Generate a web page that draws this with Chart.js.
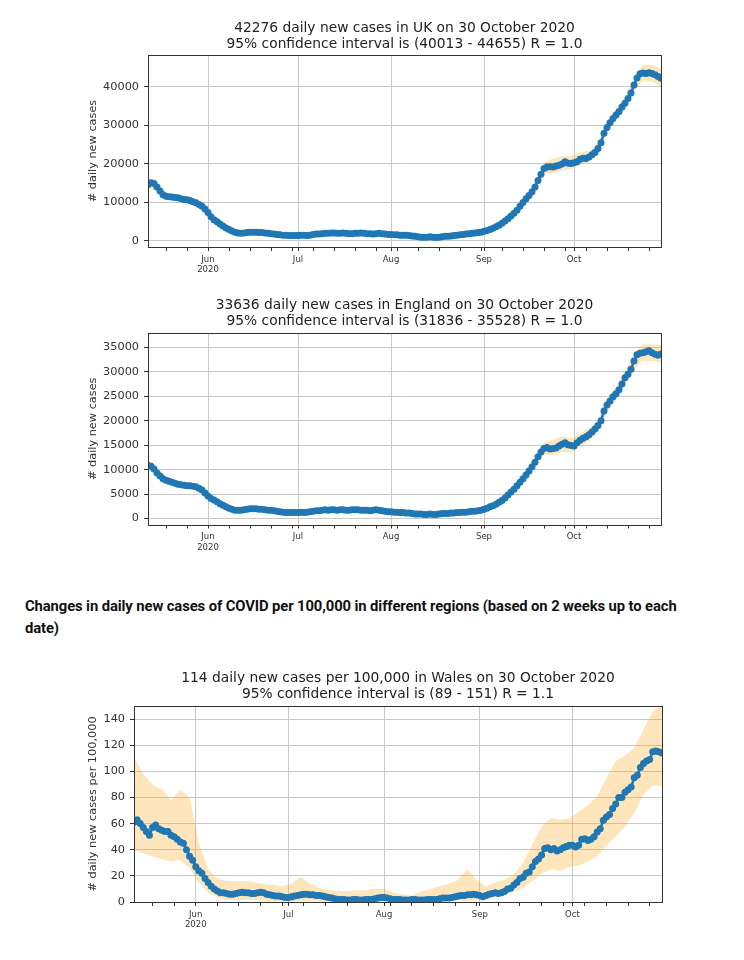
<!DOCTYPE html>
<html>
<head>
<meta charset="utf-8">
<script src="https://cdn.jsdelivr.net/npm/chart.js@4.4.0/dist/chart.umd.min.js"></script>
<style>
  body { margin: 0; background: #fff; width: 744px; height: 960px; position: relative; overflow: hidden; }
  canvas { position: absolute; left: 0; }
  #note { position: absolute; left: 25px; top: 595px; font: bold 14.8px Roboto, sans-serif; line-height: 22px; color: #111; letter-spacing: -0.1px; }
</style>
</head>
<body>
<canvas id="ukChart" width="744" height="290" style="top:0"></canvas>
<canvas id="englandChart" width="744" height="270" style="top:290px"></canvas>
<div id="note">Changes in daily new cases of COVID per 100,000 in different regions (based on 2 weeks up to each<br>date)</div>
<canvas id="walesChart" width="744" height="300" style="top:650px"></canvas>
<script>
// day 0 = 12 May 2020, day 171 = 30 Oct 2020
const firstDay = 0;
const lastDay = 171;
const monthTicks = [20, 50, 81, 112, 142];
const monthLabels = [["Jun", "2020"], "Jul", "Aug", "Sep", "Oct"];
const weekTicks = [6, 13, 27, 34, 41, 48, 55, 62, 69, 76, 83, 90, 97, 104, 111, 118, 125, 132, 139, 146, 153, 160, 167];

// confidence band sampled every third day
const bandDays = [0, 3, 6, 9, 12, 15, 18, 21, 24, 27, 30, 33, 36, 39, 42, 45, 48, 51, 54, 57,
  60, 63, 66, 69, 72, 75, 78, 81, 84, 87, 90, 93, 96, 99, 102, 105, 108, 111, 114, 117,
  120, 123, 126, 129, 132, 135, 138, 141, 144, 147, 150, 153, 156, 159, 162, 165, 168, 171];

const ukCases = [
  14700, 15100, 14900, 14000, 13000, 12000, 11600, 11500, 11400, 11300,
  11200, 11000, 10800, 10700, 10500, 10200, 9900, 9500, 9000, 8300,
  7400, 6300, 5500, 5000, 4400, 3900, 3400, 3000, 2600, 2300,
  2100, 2000, 2100, 2200, 2300, 2300, 2300, 2200, 2200, 2100,
  2000, 1900, 1800, 1700, 1600, 1500, 1500, 1400, 1400, 1400,
  1400, 1500, 1500, 1400, 1500, 1700, 1800, 1800, 1900, 2000,
  2000, 2100, 2100, 2000, 2000, 2100, 2000, 1900, 1900, 2000,
  2000, 2100, 2000, 1900, 1900, 1800, 1900, 2000, 1900, 1800,
  1700, 1700, 1600, 1600, 1500, 1500, 1500, 1400, 1300, 1200,
  1100, 1000, 1000, 1000, 1100, 1000, 900, 1000, 1100, 1200,
  1200, 1300, 1400, 1500, 1600, 1700, 1800, 1900, 2000, 2100,
  2200, 2300, 2500, 2700, 3000, 3300, 3700, 4100, 4600, 5200,
  5800, 6500, 7200, 8000, 9000, 10000, 11000, 11800, 12800, 14000,
  15700, 17300, 18800, 19200, 19300, 19200, 19500, 19700, 20000, 20600,
  20200, 20100, 20300, 20600, 21200, 21500, 21400, 21800, 22400, 23000,
  24000, 25500, 28000, 29500, 30700, 31800, 32700, 33600, 34800, 35800,
  37000, 38400, 40500, 42300, 43400, 43600, 43500, 43700, 43500, 43200,
  42700, 42276
];
const ukUpper = [16200, 15200, 12500, 12100, 11500, 10800, 9500, 6700, 4700, 3300,
  2400, 2500, 2600, 2400, 2100, 1800, 1700, 1800, 1800, 2100,
  2300, 2300, 2300, 2300, 2300, 2100, 2200, 2000, 1800, 1700,
  1400, 1300, 1200, 1500, 1700, 2000, 2300, 2600, 3400, 4500,
  6300, 8600, 11700, 15000, 20300, 21400, 22000, 22000, 23000, 23400,
  25400, 31000, 34300, 37500, 42500, 45800, 45700, 44655];
const ukLower = [13600, 13000, 10900, 10700, 10200, 9700, 8500, 5900, 4100, 2800,
  1900, 2000, 2100, 1900, 1600, 1300, 1200, 1300, 1300, 1600,
  1800, 1800, 1800, 1800, 1800, 1600, 1700, 1500, 1300, 1200,
  900, 800, 700, 1000, 1200, 1500, 1800, 2100, 2700, 3800,
  5400, 7500, 10400, 13200, 17500, 17600, 18400, 18600, 19800, 20500,
  22800, 28200, 31300, 34300, 38800, 41600, 41400, 40013];

const englandCases = [
  10900, 10700, 10100, 9300, 8700, 8100, 7800, 7600, 7400, 7200,
  7000, 6900, 6800, 6700, 6700, 6600, 6500, 6200, 5800, 5200,
  4600, 4100, 3800, 3400, 3000, 2700, 2400, 2100, 1900, 1700,
  1700, 1700, 1800, 1900, 2000, 2000, 2000, 1900, 1900, 1800,
  1700, 1700, 1600, 1500, 1400, 1300, 1200, 1200, 1200, 1200,
  1200, 1300, 1200, 1300, 1400, 1500, 1600, 1600, 1700, 1800,
  1700, 1800, 1800, 1700, 1800, 1800, 1700, 1700, 1800, 1800,
  1800, 1700, 1700, 1700, 1600, 1700, 1800, 1700, 1600, 1500,
  1400, 1400, 1300, 1300, 1200, 1200, 1100, 1100, 1000, 900,
  900, 900, 800, 800, 900, 800, 800, 900, 1000, 1000,
  1000, 1100, 1100, 1200, 1200, 1300, 1300, 1400, 1500, 1500,
  1600, 1700, 1900, 2100, 2400, 2600, 2900, 3300, 3700, 4200,
  4800, 5400, 6000, 6700, 7400, 8100, 8900, 9700, 10600, 11500,
  12600, 13600, 14300, 14500, 14200, 14300, 14400, 14800, 15200, 15500,
  15100, 14900, 14800, 15500, 16000, 16400, 16700, 17100, 17700, 18300,
  19000, 20000, 22000, 23200, 24000, 24900, 25500, 26300, 27500, 28800,
  29500, 30500, 32200, 33500, 33800, 33900, 34100, 34300, 33900, 33600,
  33400, 33636
];
const englandUpper = [11900, 10200, 8500, 7800, 7300, 7100, 6200, 4400, 3300, 2300,
  1900, 2100, 2200, 2000, 1800, 1500, 1400, 1500, 1600, 1800,
  1900, 1900, 1900, 2000, 1900, 1900, 1800, 1600, 1400, 1300,
  1100, 1000, 1000, 1200, 1300, 1500, 1700, 1900, 2700, 3600,
  5200, 7200, 9500, 12300, 15600, 16000, 16800, 16400, 17400, 18400,
  20200, 24500, 26800, 30200, 33800, 35600, 35600, 35528];
const englandLower = [10000, 8600, 7200, 6700, 6300, 6200, 5400, 3800, 2800, 1900,
  1500, 1700, 1800, 1600, 1400, 1100, 1000, 1100, 1200, 1400,
  1500, 1500, 1500, 1600, 1500, 1500, 1400, 1200, 1000, 900,
  700, 600, 600, 800, 900, 1100, 1300, 1500, 2100, 3000,
  4400, 6200, 8300, 10800, 13100, 12900, 13700, 13500, 14700, 15900,
  17900, 22000, 24200, 27400, 30600, 32300, 32200, 31836];

const walesRate = [
  61, 63, 60, 57, 54, 51, 57, 59, 56, 55,
  54, 54, 51, 50, 48, 46, 45, 40, 35, 32,
  27, 24, 22, 18, 15, 12, 10, 8.5, 7, 7,
  6.5, 6, 6, 6.5, 7, 7.5, 7, 7, 6.5, 6.5,
  7, 7.5, 7, 6, 5.5, 5, 4.5, 4.5, 4, 3.5,
  3.5, 4, 4.5, 5, 5.5, 6, 6, 5.5, 5.5, 5,
  5, 4.5, 4, 3.5, 3, 2.5, 2, 2, 2, 1.5,
  1.5, 2, 2, 1.5, 1.5, 2, 2, 2, 2.5, 3,
  3.5, 3.5, 3, 2.5, 2, 2, 2, 1.5, 1.5, 1.5,
  2, 2, 1.5, 1.5, 1.5, 2, 2, 2, 2, 2.5,
  3, 3, 3, 3.5, 4, 4.5, 5, 5, 5.5, 5.5,
  6, 5.5, 5, 4, 5, 6, 6.5, 7, 6.5, 7,
  8, 10, 10.5, 13, 15, 18, 19, 22, 23, 27,
  31, 33, 36, 41, 41.5, 40, 41, 39, 40, 41.5,
  42.5, 43.5, 43.5, 42, 43.5, 48, 48.5, 47, 48, 50,
  53.5, 56, 62.5, 65, 67, 71.5, 75, 80, 80, 84,
  86, 88, 95, 97, 103, 106, 108, 109, 115, 115.5,
  115, 114
];
const walesUpper = [111, 98, 90, 86, 78, 86, 80, 45, 25, 18,
  16, 16, 16, 15, 14, 13, 12, 14, 19, 14,
  11, 9, 8.5, 8.5, 9, 9, 10, 10, 7, 6,
  5, 8, 10, 12, 14, 17, 25, 17, 12, 15,
  17, 21, 30, 44, 58, 64, 63, 64, 69, 74,
  81, 95, 108, 112, 118, 132, 146, 151];
const walesLower = [40, 37, 35, 33, 31, 32, 26, 15, 7, 3.5,
  1.5, 1.5, 1.5, 1.5, 1, 0.5, 0.5, 0.5, 1, 1,
  0.5, 0.2, 0, 0, 0, 0, 0, 0.3, 0, 0,
  0, 0, 0, 0.2, 0.5, 1, 1, 1.5, 2, 4.5,
  6, 8, 11, 16, 22, 25, 24, 27, 28, 31,
  35, 43, 50, 58, 68, 82, 89, 89];

const ukTicks = [0, 10000, 20000, 30000, 40000];
const englandTicks = [0, 5000, 10000, 15000, 20000, 25000, 30000, 35000];
const walesTicks = [0, 20, 40, 60, 80, 100, 120, 140];

const blue = "#1f77b4";
const bandColor = "rgba(255, 170, 30, 0.3)";
const gridColor = "#c8c8c8";
const axisColor = "#333";

Chart.defaults.font.family = "'DejaVu Sans', sans-serif";

const frame = {
    id: "frame",
    afterDatasetsDraw(chart) {
        const { ctx, chartArea: a } = chart;
        ctx.save();
        ctx.strokeStyle = axisColor;
        ctx.lineWidth = 1;
        ctx.strokeRect(Math.round(a.left) + 0.5, Math.round(a.top) + 0.5,
            Math.round(a.right - a.left), Math.round(a.bottom - a.top));
        ctx.restore();
    }
};

function makeChart(id, o) {
    const days = o.values.map((v, i) => firstDay + i);
    const points = o.values.map((v, i) => ({ x: days[i], y: v }));
    const upper = bandDays.map((d, i) => ({ x: d, y: o.upper[i] }));
    const lower = bandDays.map((d, i) => ({ x: d, y: o.lower[i] }));
    const xTickValues = monthTicks.concat(weekTicks).sort((a, b) => a - b);

    return new Chart(document.getElementById(id), {
        type: "line",
        data: {
            datasets: [
                { data: upper, fill: "+1", backgroundColor: bandColor, borderWidth: 0, pointRadius: 0, order: 2 },
                { data: lower, fill: false, borderWidth: 0, pointRadius: 0, order: 2 },
                {
                    data: points, borderColor: blue, borderWidth: 2.5, pointRadius: 3.5,
                    pointBackgroundColor: blue, pointBorderWidth: 0, fill: false, order: 0
                }
            ]
        },
        options: {
            responsive: false,
            animation: false,
            devicePixelRatio: 1,
            layout: { padding: { left: 0, right: 744 - o.right, top: 0, bottom: 0 } },
            plugins: {
                legend: { display: false },
                tooltip: { enabled: false },
                title: {
                    display: true,
                    text: o.title,
                    fullSize: false,
                    color: "#222",
                    font: { size: 13.8, weight: "normal", lineHeight: "16px" },
                    padding: { top: o.titleTop, bottom: o.titleGap }
                }
            },
            scales: {
                x: {
                    type: "linear",
                    min: firstDay,
                    max: lastDay,
                    afterBuildTicks: s => { s.ticks = xTickValues.map(v => ({ value: v })); },
                    afterFit: s => { s.height = o.xHeight; },
                    border: { display: false },
                    grid: {
                        color: c => monthTicks.includes(c.tick.value) ? gridColor : "rgba(0,0,0,0)",
                        tickColor: axisColor,
                        tickLength: 4
                    },
                    ticks: {
                        autoSkip: false,
                        maxRotation: 0,
                        color: "#333",
                        padding: 3,
                        font: { size: 8.5, lineHeight: 1.25 },
                        callback: v => {
                            const i = monthTicks.indexOf(v);
                            return i >= 0 ? monthLabels[i] : "";
                        }
                    }
                },
                y: {
                    min: o.yMin,
                    max: o.yMax,
                    afterBuildTicks: s => { s.ticks = o.yTicks.map(v => ({ value: v })); },
                    afterFit: s => { s.width = o.left; },
                    border: { display: false },
                    grid: { color: gridColor, tickColor: axisColor, tickLength: 4 },
                    ticks: { color: "#333", padding: 5, font: { size: 11.3 }, callback: v => String(v) },
                    title: {
                        display: true,
                        text: o.yLabel,
                        color: "#333",
                        font: { size: 11.3, lineHeight: 1.2 },
                        padding: { top: o.yLabelX - 6.8, bottom: 0 }
                    }
                }
            }
        },
        plugins: [frame]
    });
}

makeChart("ukChart", {
    values: ukCases, upper: ukUpper, lower: ukLower, yTicks: ukTicks,
    yMin: -1560, yMax: 48300,
    title: ["42276 daily new cases in UK on 30 October 2020", "95% confidence interval is (40013 - 44655) R = 1.0"],
    yLabel: "# daily new cases",
    left: 148, right: 661, titleTop: 20.25, titleGap: 2.75, xHeight: 43, yLabelX: 93
});

makeChart("englandChart", {
    values: englandCases, upper: englandUpper, lower: englandLower, yTicks: englandTicks,
    yMin: -1230, yMax: 37930,
    title: ["33636 daily new cases in England on 30 October 2020", "95% confidence interval is (31836 - 35528) R = 1.0"],
    yLabel: "# daily new cases",
    left: 148, right: 661, titleTop: 7.7, titleGap: 3.3, xHeight: 35.5, yLabelX: 93
});

makeChart("walesChart", {
    values: walesRate, upper: walesUpper, lower: walesLower, yTicks: walesTicks,
    yMin: 0, yMax: 150,
    title: ["114 daily new cases per 100,000 in Wales on 30 October 2020", "95% confidence interval is (89 - 151) R = 1.1"],
    yLabel: "# daily new cases per 100,000",
    left: 134, right: 662, titleTop: 20.25, titleGap: 3.75, xHeight: 48, yLabelX: 93
});
</script>
</body>
</html>
